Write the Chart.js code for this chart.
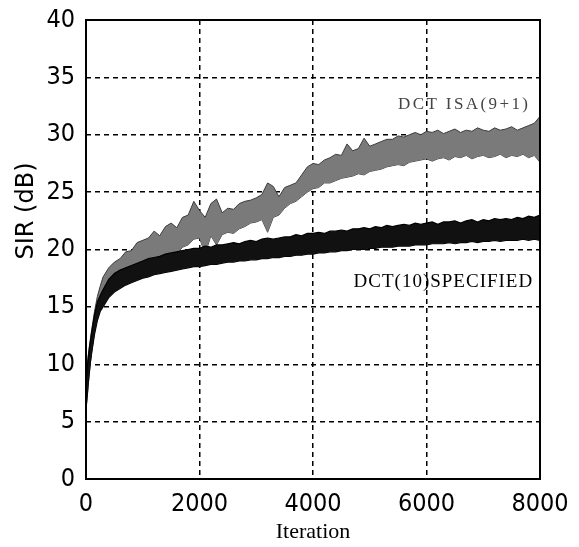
<!DOCTYPE html>
<html><head><meta charset="utf-8">
<script src="https://cdn.jsdelivr.net/npm/chart.js@4.4.1/dist/chart.umd.min.js"></script>
<style>html,body{margin:0;padding:0;background:#fff}#wrap{width:579px;height:547px;position:relative}</style>
</head><body><div id="wrap"><canvas id="c"></canvas></div>
<script>
const iterations = [0,20,40,60,80,100,150,200,250,300,
 400,500,600,700,800,900,1000,1100,1200,1300,
 1400,1500,1600,1700,1800,1900,2000,2100,2200,2300,
 2400,2500,2600,2700,2800,2900,3000,3100,3200,3300,
 3400,3500,3600,3700,3800,3900,4000,4100,4200,4300,
 4400,4500,4600,4700,4800,4900,5000,5100,5200,5300,
 5400,5500,5600,5700,5800,5900,6000,6100,6200,6300,
 6400,6500,6600,6700,6800,6900,7000,7100,7200,7300,
 7400,7500,7600,7700,7800,7900,8000];
// DCT ISA(9+1): upper / lower edge of the noisy trace (dB)
const isaHi = [8.5,9.8,10.8,11.6,12.3,13.0,14.6,15.9,16.8,17.6,
 18.4,18.9,19.2,19.8,19.9,20.6,20.8,21.0,21.6,21.2,
 22.0,22.3,21.9,22.8,23.0,24.2,23.4,22.8,24.0,24.4,
 23.2,23.6,23.5,24.0,24.2,24.3,24.5,24.8,25.8,25.5,
 24.6,25.4,25.6,25.8,26.5,27.2,27.5,27.4,27.8,28.0,
 28.3,28.2,29.2,28.6,28.8,29.7,29.0,29.2,29.4,29.6,
 29.6,29.9,29.8,30.0,30.2,30.0,30.3,30.2,30.4,30.1,
 30.3,30.5,30.2,30.4,30.3,30.6,30.4,30.3,30.6,30.4,
 30.5,30.7,30.4,30.6,30.8,31.0,31.6];
const isaLo = [6.0,7.0,8.2,9.2,10.2,11.0,12.8,14.0,15.0,15.6,
 16.4,16.8,17.2,17.4,17.9,18.0,18.4,18.9,19.0,19.3,
 19.5,19.8,19.6,20.2,20.4,20.9,21.0,19.6,21.2,20.4,
 21.3,21.5,21.4,21.8,22.0,22.3,22.4,22.6,21.5,22.8,
 23.0,23.6,24.0,24.2,24.6,25.0,25.3,25.4,25.8,25.8,
 26.0,26.2,26.3,26.4,26.6,26.5,26.8,26.9,27.0,27.2,
 27.3,27.4,27.3,27.6,27.7,27.8,27.9,27.7,27.9,28.0,
 27.8,28.1,28.0,28.2,27.9,28.1,28.2,28.0,28.1,28.3,
 28.0,28.2,28.1,28.3,28.0,28.2,27.6];
// DCT(10) SPECIFIED: upper / lower edge of the noisy trace (dB)
const specHi = [8.2,9.6,10.6,11.4,12.1,12.8,14.3,15.4,16.0,16.5,
 17.4,17.9,18.2,18.4,18.6,18.8,19.0,19.2,19.3,19.4,
 19.6,19.7,19.8,19.9,20.0,20.1,20.1,20.3,20.2,20.4,
 20.4,20.5,20.6,20.5,20.7,20.8,20.7,20.9,21.0,20.9,
 21.0,21.1,21.1,21.3,21.2,21.4,21.4,21.5,21.4,21.6,
 21.6,21.7,21.6,21.8,21.8,21.9,21.8,22.0,21.9,22.1,
 22.0,22.1,22.2,22.1,22.3,22.2,22.3,22.4,22.2,22.4,
 22.4,22.5,22.3,22.5,22.6,22.4,22.6,22.5,22.7,22.6,
 22.7,22.6,22.8,22.7,22.9,22.8,23.0];
const specLo = [6.2,7.2,8.4,9.4,10.3,11.0,12.6,13.8,14.6,15.0,
 15.8,16.3,16.6,16.9,17.1,17.3,17.5,17.6,17.8,17.9,
 18.0,18.1,18.2,18.3,18.4,18.5,18.5,18.6,18.7,18.7,
 18.8,18.9,18.9,19.0,19.0,19.1,19.1,19.2,19.2,19.3,
 19.3,19.4,19.4,19.5,19.5,19.6,19.6,19.7,19.7,19.8,
 19.8,19.9,19.9,20.0,20.0,20.0,20.1,20.1,20.2,20.2,
 20.2,20.3,20.3,20.3,20.4,20.4,20.4,20.5,20.5,20.5,
 20.6,20.5,20.6,20.6,20.7,20.6,20.7,20.7,20.8,20.7,
 20.8,20.8,20.8,20.9,20.8,20.9,20.8];
const xTicks = [0,2000,4000,6000,8000];
const yTicks = [0,5,10,15,20,25,30,35,40];
const seriesNames = ['DCT ISA(9+1)','DCT(10)SPECIFIED'];
const xTitle = 'Iteration';
const yTitle = 'SIR (dB)';

const pts = ys => iterations.map((x,i)=>({x:x, y:ys[i]}));
const FAM = "'Liberation Sans Narrow','DejaVu Sans Condensed','Liberation Sans',sans-serif";

const deco = {
  id:'deco',
  afterDatasetsDraw(chart){
    const ctx = chart.ctx, xs = chart.scales.x, ys = chart.scales.y;
    ctx.save();
    ctx.textAlign = 'right'; ctx.textBaseline = 'middle';
    ctx.fillStyle = '#444';
    ctx.font = "17px 'Liberation Serif','Times New Roman',serif";
    ctx.letterSpacing = '2.4px';
    ctx.fillText(seriesNames[0], xs.getPixelForValue(7830), ys.getPixelForValue(32.6));
    ctx.fillStyle = '#000';
    ctx.font = "19px 'Liberation Serif','Times New Roman',serif";
    ctx.letterSpacing = '1px';
    ctx.fillText(seriesNames[1], xs.getPixelForValue(7880), ys.getPixelForValue(17.2));
    ctx.restore();
  },
  afterDraw(chart){
    const ctx = chart.ctx, a = chart.chartArea;
    ctx.save();
    ctx.setLineDash([]);
    ctx.strokeStyle = '#000'; ctx.lineWidth = 2;
    ctx.strokeRect(a.left, a.top, a.right - a.left, a.bottom - a.top);
    ctx.translate(27, 211);
    ctx.rotate(-Math.PI/2);
    ctx.textAlign = 'center'; ctx.textBaseline = 'middle';
    ctx.fillStyle = '#000';
    ctx.font = "24px 'DejaVu Sans',sans-serif";
    ctx.fillText(yTitle, 0, 0);
    ctx.restore();
  }
};

new Chart(document.getElementById('c'), {
  type:'line',
  data:{datasets:[
    {label:seriesNames[0]+' upper', data:pts(isaHi), fill:'+1', order:2,
     backgroundColor:'#7a7a7a', borderColor:'#3c3c3c', borderWidth:1, pointRadius:0, tension:0},
    {label:seriesNames[0]+' lower', data:pts(isaLo), fill:false, order:2,
     borderColor:'#3c3c3c', borderWidth:1, pointRadius:0, tension:0},
    {label:seriesNames[1]+' upper', data:pts(specHi), fill:'+1', order:1,
     backgroundColor:'#111', borderColor:'#000', borderWidth:1.2, pointRadius:0, tension:0},
    {label:seriesNames[1]+' lower', data:pts(specLo), fill:false, order:1,
     borderColor:'#000', borderWidth:1.2, pointRadius:0, tension:0}
  ]},
  options:{
    responsive:true, maintainAspectRatio:false, animation:false,
    layout:{padding:{top:20,right:39,left:0,bottom:0}},
    plugins:{legend:{display:false}, tooltip:{enabled:false}},
    scales:{
      x:{type:'linear', min:0, max:8000,
        afterBuildTicks:s=>{s.ticks = xTicks.map(v=>({value:v}));},
        afterFit:s=>{s.height = 68;},
        grid:{color:'#000', lineWidth:1.5, drawTicks:false},
        border:{display:false, dash:[5,4]},
        ticks:{color:'#000', font:{family:FAM, size:25}, padding:10, maxRotation:0, autoSkip:false, callback:v=>String(v)},
        title:{display:true, text:xTitle, color:'#000',
          font:{family:"'Liberation Serif','Times New Roman',serif", size:22}, padding:{top:0,bottom:2}}
      },
      y:{type:'linear', min:0, max:40,
        afterBuildTicks:s=>{s.ticks = yTicks.map(v=>({value:v}));},
        afterFit:s=>{s.width = 86;},
        grid:{color:'#000', lineWidth:1.5, drawTicks:false},
        border:{display:false, dash:[5,4]},
        ticks:{color:'#000', font:{family:FAM, size:25, lineHeight:0.6}, padding:11, autoSkip:false, callback:v=>String(v)}
      }
    }
  },
  plugins:[deco]
});
</script></body></html>
